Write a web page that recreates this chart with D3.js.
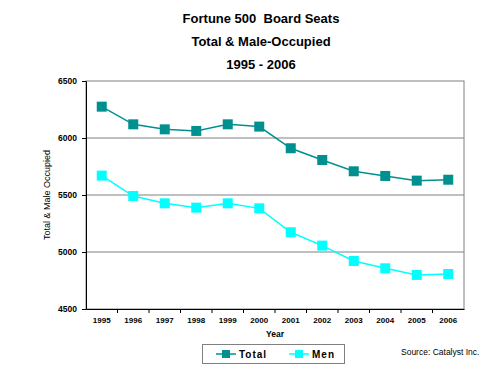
<!DOCTYPE html>
<html>
<head>
<meta charset="utf-8">
<script src="https://cdn.jsdelivr.net/npm/d3@7"></script>
<style>
  body { margin: 0; background: #fff; }
  svg { display: block; font-family: Arial, "Liberation Sans", sans-serif; }
  text { white-space: pre; }
</style>
</head>
<body>
<div id="chart"></div>
<script>
// Data
const years = ["1995", "1996", "1997", "1998", "1999", "2000", "2001", "2002", "2003", "2004", "2005", "2006"]
const totalSeats = [6275, 6120, 6076, 6062, 6120, 6100, 5910, 5807, 5708, 5667, 5626, 5634]
const menSeats = [5670, 5491, 5427, 5389, 5427, 5383, 5173, 5056, 4921, 4857, 4799, 4807]
const yTicks = [4500, 5000, 5500, 6000, 6500]
const titleLines = ["Fortune 500  Board Seats", "Total & Male-Occupied", "1995 - 2006"]

const series = [
  { name: "Total", values: totalSeats, color: "#009090" },
  { name: "Men", values: menSeats, color: "#00FFFF" },
]

// Dimensions
const width = 500, height = 375
const plot = { left: 86, right: 464, top: 81, bottom: 309 }

const svg = d3.select("#chart")
  .append("svg")
  .attr("width", width)
  .attr("height", height)

const x = d3.scaleBand()
  .domain(years)
  .range([plot.left, plot.right])

const y = d3.scaleLinear()
  .domain([4500, 6500])
  .range([plot.bottom, plot.top])

// Titles
svg.append("g")
  .selectAll("text")
  .data(titleLines)
  .join("text")
  .attr("x", 261)
  .attr("y", (d, i) => 23 + i * 23)
  .attr("text-anchor", "middle")
  .attr("font-size", 13)
  .attr("font-weight", "bold")
  .text(d => d)

// Gridlines
svg.append("g")
  .selectAll("line")
  .data(yTicks.slice(1, -1))
  .join("line")
  .attr("x1", plot.left)
  .attr("x2", plot.right)
  .attr("y1", d => y(d))
  .attr("y2", d => y(d))
  .attr("stroke", "#808080")
  .attr("stroke-width", 1)

// Plot border
svg.append("rect")
  .attr("x", plot.left)
  .attr("y", plot.top)
  .attr("width", plot.right - plot.left)
  .attr("height", plot.bottom - plot.top)
  .attr("fill", "none")
  .attr("stroke", "#808080")

// Axes
const yAxis = svg.append("g")
  .attr("transform", `translate(${plot.left},0)`)
  .call(d3.axisLeft(y).tickValues(yTicks).tickSize(4).tickPadding(5).tickFormat(d3.format("d")))
yAxis.select(".domain").attr("stroke", "#000")
yAxis.selectAll("text").attr("font-size", 8.5).attr("font-weight", "bold").attr("fill", "#000")

const xAxis = svg.append("g")
  .attr("transform", `translate(0,${plot.bottom})`)
  .call(d3.axisBottom(x).tickSize(0).tickPadding(8))
xAxis.select(".domain").attr("stroke", "#000")
xAxis.selectAll("text").attr("font-size", 8).attr("font-weight", "bold").attr("fill", "#000")

// x tick marks between categories
svg.append("g")
  .selectAll("line")
  .data(years.slice(1))
  .join("line")
  .attr("x1", d => x(d))
  .attr("x2", d => x(d))
  .attr("y1", plot.bottom)
  .attr("y2", plot.bottom + 4)
  .attr("stroke", "#000")

// Axis titles
svg.append("text")
  .attr("x", 275)
  .attr("y", 337)
  .attr("text-anchor", "middle")
  .attr("font-size", 8.5)
  .attr("font-weight", "bold")
  .text("Year")

svg.append("text")
  .attr("transform", `translate(50,${(plot.top + plot.bottom) / 2}) rotate(-90)`)
  .attr("text-anchor", "middle")
  .attr("font-size", 9)
  .text("Total & Male Occupied")

// Lines & markers
const line = d3.line()
  .x((d, i) => x(years[i]) + x.bandwidth() / 2)
  .y(d => y(d))

const groups = svg.append("g")
  .selectAll("g")
  .data(series)
  .join("g")

groups.append("path")
  .attr("d", d => line(d.values))
  .attr("fill", "none")
  .attr("stroke", d => d.color)
  .attr("stroke-width", 1.5)

groups.selectAll("rect")
  .data(d => d.values.map((v, i) => ({ v, i, color: d.color })))
  .join("rect")
  .attr("x", d => x(years[d.i]) + x.bandwidth() / 2 - 5)
  .attr("y", d => y(d.v) - 5)
  .attr("width", 10)
  .attr("height", 10)
  .attr("fill", d => d.color)

// Legend
const legend = svg.append("g")
legend.append("rect")
  .attr("x", 202.5)
  .attr("y", 344.5)
  .attr("width", 142)
  .attr("height", 19)
  .attr("fill", "#fff")
  .attr("stroke", "#808080")

const items = legend.selectAll("g")
  .data(series)
  .join("g")
  .attr("transform", (d, i) => `translate(${216 + i * 73},354)`)
items.append("line")
  .attr("x1", 0).attr("x2", 20)
  .attr("stroke", d => d.color)
  .attr("stroke-width", 1.5)
items.append("rect")
  .attr("x", 6).attr("y", -4)
  .attr("width", 8).attr("height", 8)
  .attr("fill", d => d.color)
items.append("text")
  .attr("x", 23)
  .attr("y", 4)
  .attr("font-size", 10)
  .attr("font-weight", "bold")
  .attr("letter-spacing", 1)
  .text(d => d.name)

svg.append("text")
  .attr("x", 401)
  .attr("y", 355)
  .attr("font-size", 8.5)
  .text("Source: Catalyst Inc.")
</script>
</body>
</html>
